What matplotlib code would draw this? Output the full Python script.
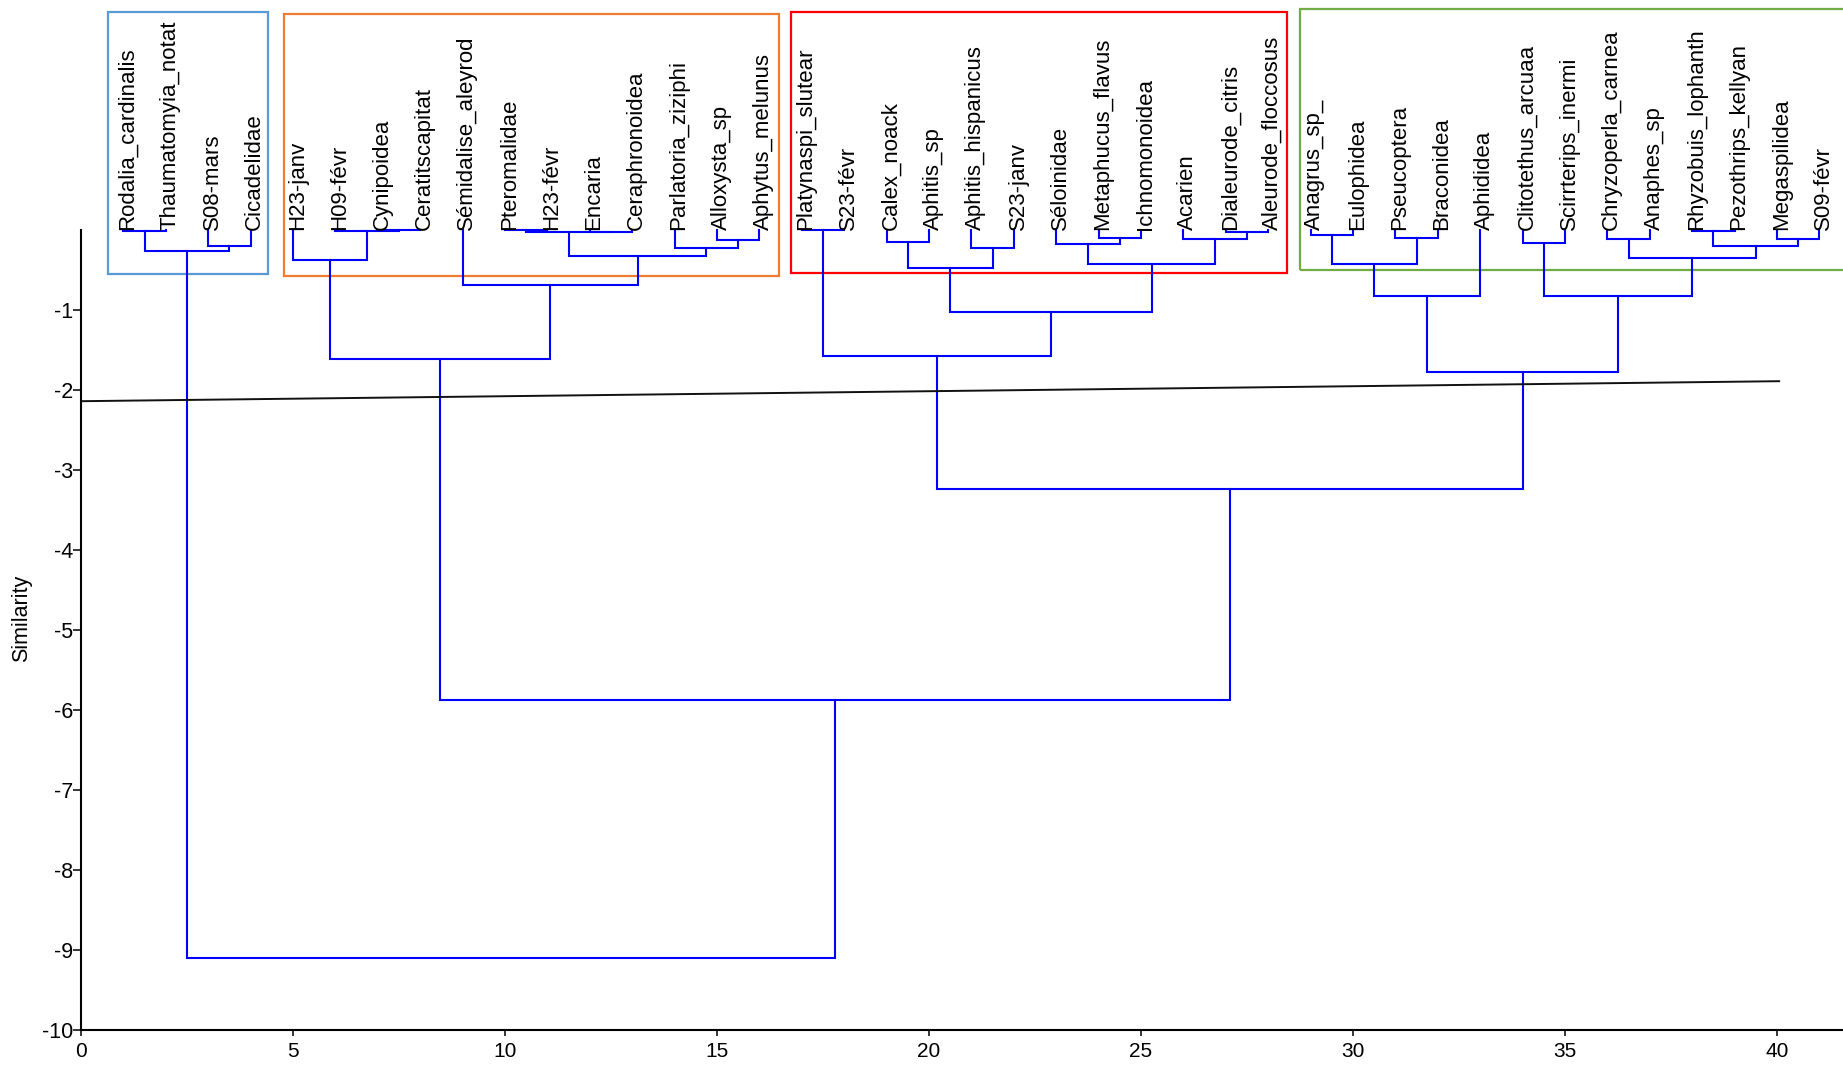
import matplotlib.pyplot as plt
from matplotlib.patches import Rectangle

plt.rcParams['font.family'] = ['Liberation Sans', 'DejaVu Sans']
plt.rcParams['axes.unicode_minus'] = False

# leaf labels, left to right (leaf i sits at x = i)
leaf_names = [
    "Rodalia_cardinalis", "Thaumatomyia_notat", "S08-mars", "Cicadelidae",
    "H23-janv", "H09-févr", "Cynipoidea", "Ceratitscapitat",
    "Sémidalise_aleyrod", "Pteromalidae", "H23-févr", "Encaria",
    "Ceraphronoidea", "Parlatoria_ziziphi", "Alloxysta_sp", "Aphytus_melunus",
    "Platynaspi_slutear", "S23-févr", "Calex_noack", "Aphitis_sp",
    "Aphitis_hispanicus", "S23-janv", "Séloinidae", "Metaphucus_flavus",
    "Ichnomonoidea", "Acarien", "Dialeurode_citris", "Aleurode_floccosus",
    "Anagrus_sp_", "Eulophidea", "Pseucoptera", "Braconidea",
    "Aphididea", "Clitotethus_arcuaa", "Scirrterips_inermi", "Chryzoperla_carnea",
    "Anaphes_sp", "Rhyzobuis_lophanth", "Pezothrips_kellyan", "Megaspilidea",
    "S09-févr",
]

# merge steps: (cluster name, left child, right child, similarity level)
# ints are leaf positions, strings are earlier clusters
merges_g1 = [
    ("c1", 1, 2, -0.01),
    ("c2", 3, 4, -0.20),
    ("c3", "c1", "c2", -0.26),
]
merges_g2 = [
    ("c4", 7, 8, -0.005),
    ("c5", 6, "c4", -0.01),
    ("c6", 5, "c5", -0.37),
    ("c7", 10, 11, -0.005),
    ("c8", 12, 13, -0.02),
    ("c9", "c7", "c8", -0.03),
    ("c10", 15, 16, -0.125),
    ("c11", 14, "c10", -0.22),
    ("c12", "c9", "c11", -0.33),
    ("c13", 9, "c12", -0.69),
    ("c14", "c6", "c13", -1.61),
]
merges_g3 = [
    ("c15", 17, 18, -0.005),
    ("c16", 19, 20, -0.15),
    ("c17", 21, 22, -0.22),
    ("c18", "c16", "c17", -0.48),
    ("c19", 24, 25, -0.10),
    ("c20", 23, "c19", -0.17),
    ("c21", 27, 28, -0.03),
    ("c22", 26, "c21", -0.11),
    ("c23", "c20", "c22", -0.43),
    ("c24", "c18", "c23", -1.02),
    ("c25", "c15", "c24", -1.57),
]
merges_g4 = [
    ("c26", 29, 30, -0.06),
    ("c27", 31, 32, -0.10),
    ("c28", "c26", "c27", -0.42),
    ("c29", "c28", 33, -0.82),
    ("c30", 34, 35, -0.16),
    ("c31", 36, 37, -0.11),
    ("c32", 38, 39, -0.01),
    ("c33", 40, 41, -0.11),
    ("c34", "c32", "c33", -0.20),
    ("c35", "c31", "c34", -0.35),
    ("c36", "c30", "c35", -0.82),
    ("c37", "c29", "c36", -1.77),
]
merges_top = [
    ("c38", "c25", "c37", -3.24),
    ("c39", "c14", "c38", -5.87),
    ("c40", "c3", "c39", -9.10),
]

# cut line across the tree
cut_x = [0, 40.05]
cut_y = [-2.14, -1.89]

# boxes around the four groups: x0, x1, y0, y1, colour
group_boxes = [
    (0.64, 4.41, -0.55, 2.72, "#5B9BD5"),
    (4.79, 16.46, -0.575, 2.70, "#ED7D31"),
    (16.75, 28.45, -0.54, 2.72, "#FF0000"),
    (28.74, 44.0, -0.50, 2.76, "#70AD47"),
]

fig = plt.figure(figsize=(18.43, 10.65), dpi=100)
ax = fig.add_axes([81 / 1843, 35 / 1065, 1 - 81 / 1843, 800 / 1065])

pos = {i: (i, 0.0) for i in range(1, len(leaf_names) + 1)}
for name, a, b, h in merges_g1 + merges_g2 + merges_g3 + merges_g4 + merges_top:
    xa, ya = pos[a]
    xb, yb = pos[b]
    ax.plot([xa, xa, xb, xb], [ya, h, h, yb], color="#0000FF", lw=1.5,
            solid_joinstyle="miter", clip_on=False)
    pos[name] = ((xa + xb) / 2, h)

for i, name in enumerate(leaf_names, start=1):
    ax.text(i + 0.1, 0.0, name, rotation=90, ha="center", va="bottom",
            fontsize=16, clip_on=False)

for x0, x1, y0, y1, col in group_boxes:
    ax.add_patch(Rectangle((x0, y0), x1 - x0, y1 - y0, fill=False,
                           edgecolor=col, lw=1.6, clip_on=False))

ax.plot(cut_x, cut_y, color="#111111", lw=1.4)

ax.set_xlim(0, 1762 / 42.4)
ax.set_ylim(-10, 0)
ax.set_xticks(range(0, 41, 5))
ax.set_yticks(range(-10, 0))
ax.spines["top"].set_visible(False)
ax.spines["right"].set_visible(False)
ax.spines["left"].set_linewidth(1.5)
ax.spines["bottom"].set_linewidth(1.5)
ax.tick_params(axis="x", length=4.3, width=1.1, pad=4, labelsize=15)
ax.tick_params(axis="y", length=5.8, width=1.1, pad=0, labelsize=15.5)
ax.set_ylabel("Similarity", fontsize=15.5)
ax.yaxis.set_label_coords(-0.0278, 0.514)

fig.savefig("out.png", dpi=100)
